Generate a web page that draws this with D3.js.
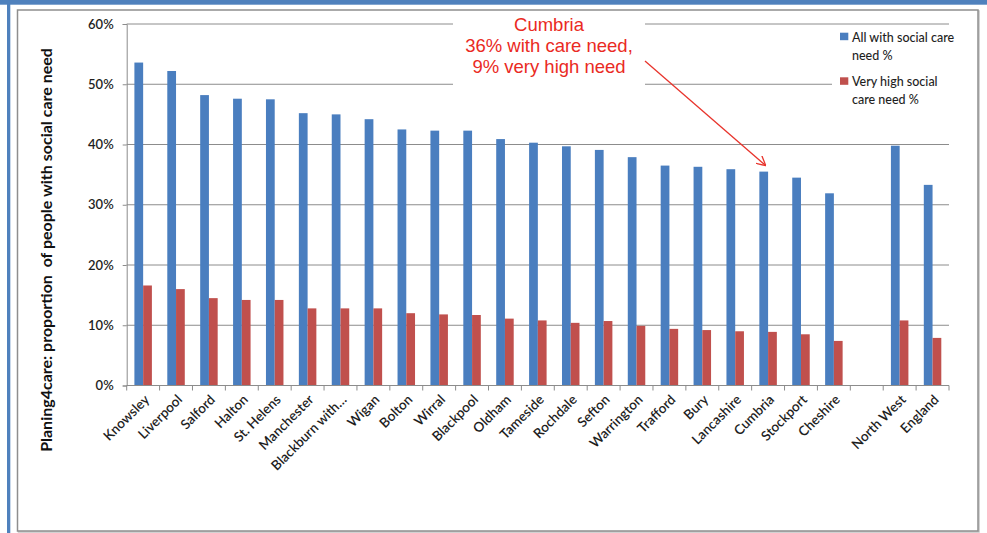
<!DOCTYPE html>
<html>
<head>
<meta charset="utf-8">
<script src="https://cdn.jsdelivr.net/npm/d3@7"></script>
<style>
  html, body { margin: 0; padding: 0; background: #ffffff; }
  svg { display: block; }
  text { font-family: Lato, "Liberation Sans", sans-serif; }
</style>
</head>
<body>
<svg id="chart" width="987" height="533"></svg>
<script>
// Local authorities in the North West, then a spacer slot and the two benchmarks
const categories = ["Knowsley", "Liverpool", "Salford", "Halton", "St. Helens", "Manchester",
  "Blackburn with…", "Wigan", "Bolton", "Wirral", "Blackpool", "Oldham", "Tameside",
  "Rochdale", "Sefton", "Warrington", "Trafford", "Bury", "Lancashire", "Cumbria",
  "Stockport", "Cheshire", "", "North West", "England"];

// Percent of people with any social care need
const allNeed = [53.6, 52.2, 48.2, 47.6, 47.5, 45.2, 45.0, 44.2, 42.5, 42.3, 42.3, 40.9, 40.3,
  39.7, 39.1, 37.9, 36.5, 36.3, 35.9, 35.5, 34.5, 31.9, null, 39.8, 33.3];

// Percent of people with very high social care need
const veryHigh = [16.6, 16.0, 14.5, 14.2, 14.2, 12.8, 12.8, 12.8, 12.0, 11.8, 11.7, 11.1, 10.8,
  10.4, 10.7, 9.9, 9.4, 9.2, 9.0, 8.9, 8.5, 7.4, null, 10.8, 7.9];

const seriesNames = ["All with social care need %", "Very high social care need %"];
const legendLines = [["All with social care", "need %"], ["Very high social", "care need %"]];
const yTicks = [0, 10, 20, 30, 40, 50, 60];
const yTitle = "Planing4care: proportion  of people with social care need";
const highlight = "Cumbria";

const colors = ["#4a7ebf", "#c0504d"];
const seriesValues = [allNeed, veryHigh];

const svg = d3.select("#chart");

// Page frame: blue band along the top and a thin blue rule on the left
svg.append("rect").attr("x", 0).attr("y", 0).attr("width", 987).attr("height", 4.7).attr("fill", "#4f81bd");
svg.append("rect").attr("x", 7).attr("y", 0).attr("width", 3.3).attr("height", 533).attr("fill", "#4f81bd");

// Chart area border with a faint shadow on the lower and right edges
svg.append("rect")
  .attr("x", 18.5).attr("y", 11).attr("width", 960.5).attr("height", 521)
  .attr("fill", "none").attr("stroke", "#c4c4c4").attr("stroke-width", 1.5);
svg.append("rect")
  .attr("x", 17.5).attr("y", 10).attr("width", 960.5).attr("height", 521)
  .attr("fill", "#ffffff").attr("stroke", "#8e8e8e").attr("stroke-width", 1.5);

const plot = { left: 126.7, right: 949, top: 24, bottom: 385.5 };

const x = d3.scaleBand().domain(categories).range([plot.left, plot.right]).paddingInner(0).paddingOuter(0);
const x1 = d3.scaleBand().domain(seriesNames).range([0, x.bandwidth()]).paddingInner(0).paddingOuter(0.88);
const y = d3.scaleLinear().domain([0, 60]).range([plot.bottom, plot.top]);

// Horizontal gridlines
svg.append("g")
  .selectAll("line")
  .data(yTicks.filter(t => t > 0))
  .join("line")
  .attr("x1", plot.left).attr("x2", plot.right)
  .attr("y1", d => y(d)).attr("y2", d => y(d))
  .attr("stroke", "#8c8c8c").attr("stroke-width", 1);

// Y axis with percent labels
const yAxis = d3.axisLeft(y).tickValues(yTicks).tickFormat(d => d + "%").tickSize(4).tickPadding(9);
const yG = svg.append("g").attr("transform", `translate(${plot.left},0)`).call(yAxis);
yG.select(".domain").attr("stroke", "#8c8c8c");
yG.selectAll(".tick line").attr("stroke", "#8c8c8c");
yG.selectAll(".tick text")
  .attr("fill", "#1e1e1e").style("font-size", "13px").style("font-family", "Lato, sans-serif")
  .style("font-weight", "600");

// Bars
const rows = categories.map((c, i) => ({ cat: c, vals: seriesValues.map(s => s[i]) }));
const groups = svg.append("g").selectAll("g")
  .data(rows)
  .join("g")
  .attr("transform", d => `translate(${x(d.cat)},0)`);

groups.selectAll("rect")
  .data(d => d.vals.map((v, k) => ({ v, k })).filter(e => e.v != null))
  .join("rect")
  .attr("x", e => x1(seriesNames[e.k]))
  .attr("width", x1.bandwidth())
  .attr("y", e => y(e.v))
  .attr("height", e => y(0) - y(e.v))
  .attr("fill", e => colors[e.k]);

// X axis line and tick marks at slot boundaries
const xG = svg.append("g");
xG.append("line")
  .attr("x1", plot.left).attr("x2", plot.right)
  .attr("y1", plot.bottom).attr("y2", plot.bottom)
  .attr("stroke", "#8c8c8c");
const boundaries = categories.map(c => x(c)).concat([x.range()[1]]);
xG.selectAll("line.tick")
  .data(boundaries)
  .join("line")
  .attr("class", "tick")
  .attr("x1", d => d).attr("x2", d => d)
  .attr("y1", plot.bottom).attr("y2", plot.bottom + 5)
  .attr("stroke", "#8c8c8c");

// Rotated category labels
xG.selectAll("text")
  .data(categories.filter(c => c !== ""))
  .join("text")
  .attr("transform", c => `translate(${x(c) + x.bandwidth() / 2 + 7},${plot.bottom + 15}) rotate(-45)`)
  .attr("text-anchor", "end")
  .attr("fill", "#1e1e1e")
  .style("font-size", "13.5px")
  .style("font-weight", "600")
  .text(c => c);

// Y axis title, rotated
const yt = svg.append("text")
  .attr("transform", "translate(52,250) rotate(-90)")
  .attr("text-anchor", "middle")
  .attr("fill", "#111")
  .style("font-size", "13px")
  .style("font-weight", "700")
  .style("white-space", "pre")
  .attr("xml:space", "preserve")
  .text(yTitle);
const ytw = yt.node().getComputedTextLength();
yt.style("font-size", (13 * 404 / ytw).toFixed(2) + "px");

// Legend panel
const lg = svg.append("g");
lg.append("rect").attr("x", 832).attr("y", 27).attr("width", 120).attr("height", 95).attr("fill", "#ffffff");
seriesNames.forEach((name, k) => {
  const top = 32.7 + k * 44.6;
  lg.append("rect").attr("x", 840).attr("y", top).attr("width", 8.3).attr("height", 7.5).attr("fill", colors[k]);
  const t = lg.append("text")
    .attr("x", 852).attr("y", top + 9)
    .attr("fill", "#1e1e1e")
    .style("font-size", "12.5px")
    .style("font-weight", "500");
  legendLines[k].forEach((line, j) => {
    t.append("tspan").attr("x", 852).attr("dy", j === 0 ? 0 : 18).text(line);
  });
});

// Callout for the highlighted authority
const hi = categories.indexOf(highlight);
const note = svg.append("g");
note.append("rect").attr("x", 453).attr("y", 12).attr("width", 192).attr("height", 78).attr("fill", "#ffffff");
const noteLines = [
  highlight,
  Math.round(allNeed[hi]) + "% with care need,",
  Math.round(veryHigh[hi]) + "% very high need"
];
const nt = note.append("text")
  .attr("text-anchor", "middle")
  .attr("fill", "#ea2a23")
  .style("font-family", "Arial, 'Liberation Sans', sans-serif")
  .style("font-size", "18.5px");
noteLines.forEach((line, j) => {
  nt.append("tspan").attr("x", 549).attr("y", 30.7 + j * 21).text(line);
});

// Arrow from the callout to the bar it describes
const tipX = x(highlight) + x1(seriesNames[0]) + x1.bandwidth() / 2 + 2;
const tipY = y(allNeed[hi]) - 6;
const startX = 645, startY = 61;
svg.append("defs").append("marker")
  .attr("id", "arrowhead")
  .attr("viewBox", "0 0 10 10")
  .attr("refX", 9.5).attr("refY", 5)
  .attr("markerWidth", 10).attr("markerHeight", 10)
  .attr("markerUnits", "userSpaceOnUse")
  .attr("orient", "auto")
  .append("path")
  .attr("d", "M0,0 L9.5,5 L0,10")
  .attr("fill", "none")
  .attr("stroke", "#e8342c")
  .attr("stroke-width", 1.3);
svg.append("line")
  .attr("x1", startX).attr("y1", startY)
  .attr("x2", tipX).attr("y2", tipY)
  .attr("stroke", "#e8342c").attr("stroke-width", 1.3)
  .attr("marker-end", "url(#arrowhead)");
</script>
</body>
</html>
